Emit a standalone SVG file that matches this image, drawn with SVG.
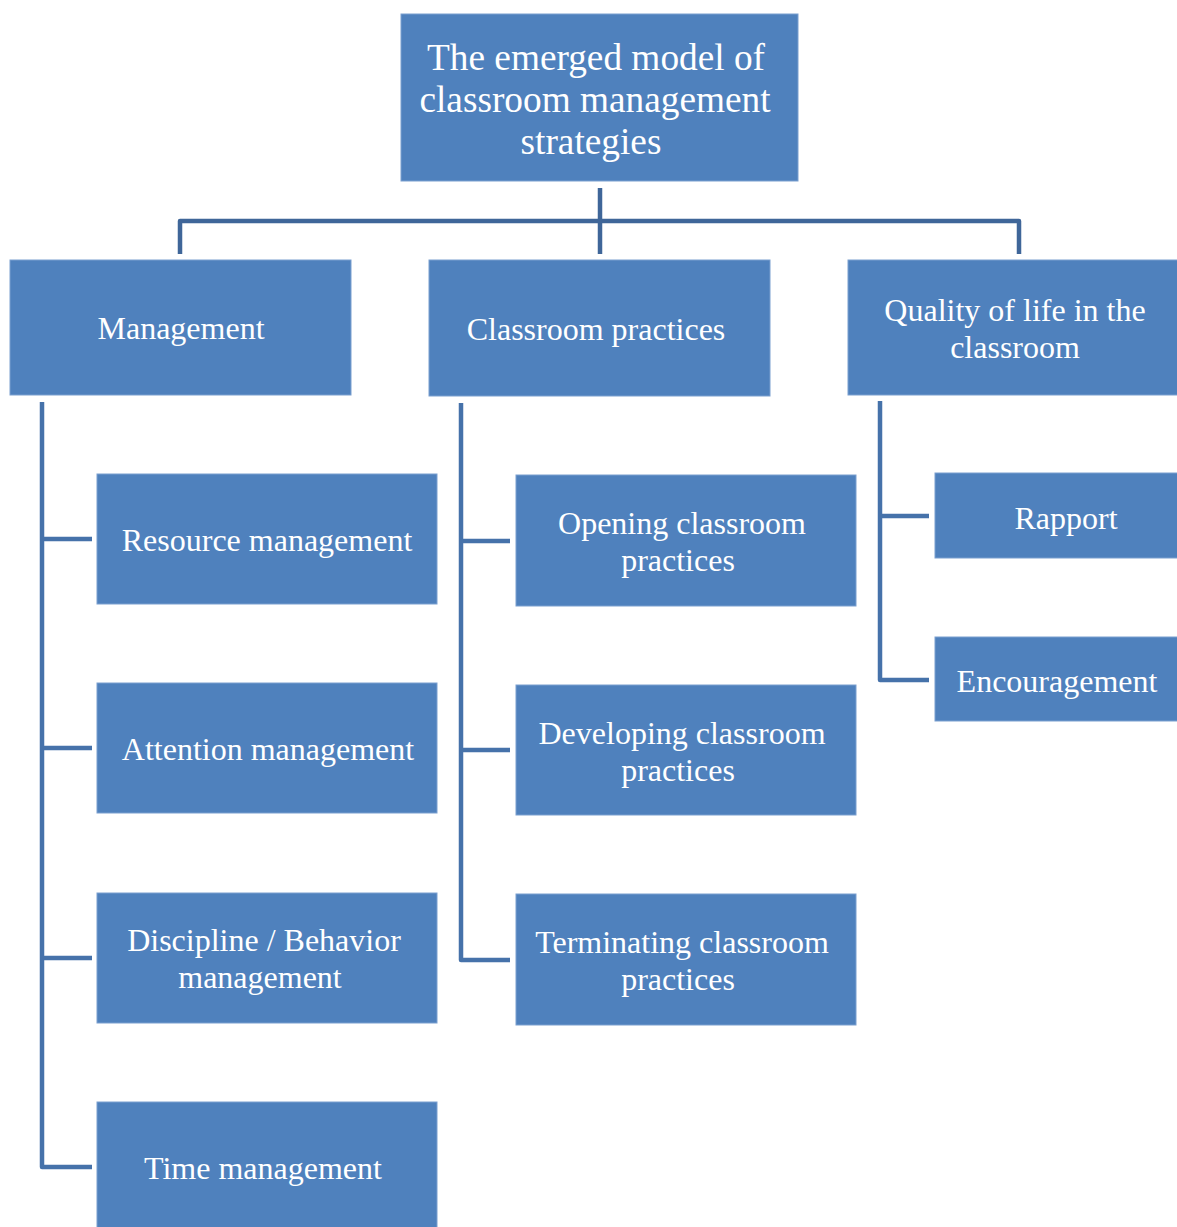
<svg xmlns="http://www.w3.org/2000/svg" width="1177" height="1227" viewBox="0 0 1177 1227">
<style>
.box{fill:#4F81BD;stroke:#7B9FCF;stroke-width:1}
.t{font-family:"Liberation Serif","Times New Roman",serif;fill:#FFFFFF;text-anchor:middle;font-size:32px}
.tt{font-size:37.3px}
.c{fill:none;stroke:#4672AA;stroke-width:4.5;stroke-linejoin:round}
.ct{stroke:#3F6699}
</style>
<rect width="1177" height="1227" fill="#FFFFFF"/>
<g id="connectors">
<path class="c ct" d="M600 188 V254"/>
<path class="c ct" d="M180 254 V221 H1019 V254"/>
<path class="c" d="M42 402 V1167 H92 M42 539 H92 M42 748 H92 M42 958 H92"/>
<path class="c" d="M461 403 V960 H510 M461 541 H510 M461 750 H510"/>
<path class="c" d="M880 401 V680 H929 M880 516 H929"/>
</g>
<g id="root">
<rect class="box" x="401" y="14" width="397" height="167"/>
<text class="t tt" x="596" y="70">The emerged model of</text>
<text class="t tt" x="595" y="112">classroom management</text>
<text class="t tt" x="591" y="154">strategies</text>
</g>
<g id="management">
<rect class="box" x="10" y="260" width="341" height="135"/>
<text class="t" x="181" y="339">Management</text>
</g>
<g id="classroom-practices">
<rect class="box" x="429" y="260" width="341" height="136"/>
<text class="t" x="596" y="340">Classroom practices</text>
</g>
<g id="quality">
<rect class="box" x="848" y="260" width="345" height="135"/>
<text class="t" x="1015" y="321">Quality of life in the</text>
<text class="t" x="1015" y="358">classroom</text>
</g>
<g id="resource">
<rect class="box" x="97" y="474" width="340" height="130"/>
<text class="t" x="267" y="551">Resource management</text>
</g>
<g id="attention">
<rect class="box" x="97" y="683" width="340" height="130"/>
<text class="t" x="268" y="760">Attention management</text>
</g>
<g id="discipline">
<rect class="box" x="97" y="893" width="340" height="130"/>
<text class="t" x="264" y="951">Discipline / Behavior</text>
<text class="t" x="260" y="988">management</text>
</g>
<g id="time">
<rect class="box" x="97" y="1102" width="340" height="130"/>
<text class="t" x="263" y="1179">Time management</text>
</g>
<g id="opening">
<rect class="box" x="516" y="475" width="340" height="131"/>
<text class="t" x="682" y="534">Opening classroom</text>
<text class="t" x="678" y="571">practices</text>
</g>
<g id="developing">
<rect class="box" x="516" y="685" width="340" height="130"/>
<text class="t" x="682" y="744">Developing classroom</text>
<text class="t" x="678" y="781">practices</text>
</g>
<g id="terminating">
<rect class="box" x="516" y="894" width="340" height="131"/>
<text class="t" x="682" y="953">Terminating classroom</text>
<text class="t" x="678" y="990">practices</text>
</g>
<g id="rapport">
<rect class="box" x="935" y="473" width="250" height="85"/>
<text class="t" x="1066" y="529">Rapport</text>
</g>
<g id="encouragement">
<rect class="box" x="935" y="637" width="250" height="84"/>
<text class="t" x="1057" y="692">Encouragement</text>
</g>
</svg>
